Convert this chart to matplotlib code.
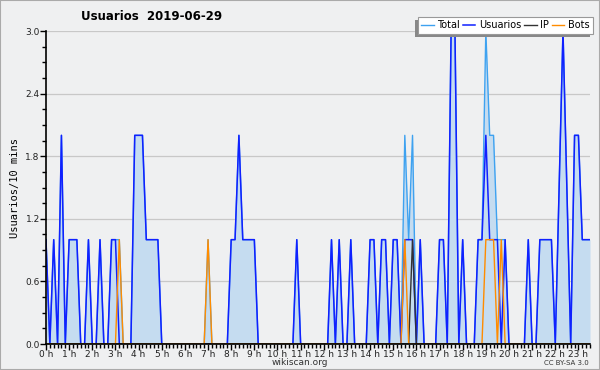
"""
Usuarios 2019-06-29 (wikiscan)
"""

import numpy as np
import matplotlib
matplotlib.use('Agg')
import matplotlib.pyplot as plt
from matplotlib.patches import Rectangle
from matplotlib.ticker import MultipleLocator, FixedLocator

# valori la fiecare 10 minute (0:00 .. 23:30)
usuarios = [1, 0, 1, 0, 2, 0, 1, 1, 1, 0, 0, 1, 0, 0, 1, 0, 0, 1, 1, 0,
            0, 0, 0, 2, 2, 2, 1, 1, 1, 1, 0, 0, 0, 0, 0, 0, 0, 0, 0, 0,
            0, 0, 0, 0, 0, 0, 0, 0, 1, 1, 2, 1, 1, 1, 1, 0, 0, 0, 0, 0,
            0, 0, 0, 0, 0, 1, 0, 0, 0, 0, 0, 0, 0, 0, 1, 0, 1, 0, 0, 1,
            0, 0, 0, 0, 1, 1, 0, 1, 1, 0, 1, 1, 0, 1, 1, 1, 0, 1, 0, 0,
            0, 0, 1, 1, 0, 3, 3, 0, 1, 0, 0, 0, 1, 1, 2, 1, 1, 1, 0, 1,
            0, 0, 0, 0, 0, 1, 0, 0, 1, 1, 1, 1, 0, 1.5, 3, 1.5, 0, 2, 2, 1,
            1, 1]
ip_idx = [95]
ip_val = [1]
bots_idx = [19, 42, 93, 114, 115, 116, 118]
bots_val = [1, 1, 1, 1, 1, 1, 1]
hour_labels = [f"{h} h" for h in range(24)]

n = len(usuarios)
x = np.arange(n)
usuarios = np.array(usuarios, dtype=float)
ip = np.zeros(n)
ip[ip_idx] = ip_val
bots = np.zeros(n)
bots[bots_idx] = bots_val
total = usuarios + ip + bots

bg = '#eff0f1'
fig = plt.figure(figsize=(6, 3.7), dpi=100, facecolor=bg)
ax = fig.add_axes([46/600, 26/370, 544/600, 313/370])
ax.set_facecolor(bg)

ax.fill_between(x, 0, total, color='#c5dcf0', lw=0, zorder=1)
ax.plot(x, total, color='#3ea2f0', lw=1.0, label='Total', zorder=2)
ax.plot(x, usuarios, color='#1020ff', lw=1.1, label='Usuarios', zorder=3)
ax.plot(x, ip, color='#333333', lw=1.0, label='IP', zorder=4)
ax.plot(x, bots, color='#ff8c00', lw=1.0, label='Bots', zorder=5)
ax.set_xlim(0, n - 1)
ax.set_ylim(0, 3.0)

ax.yaxis.set_major_locator(MultipleLocator(0.6))
ax.yaxis.set_minor_locator(MultipleLocator(0.15))
ax.yaxis.set_major_formatter(matplotlib.ticker.FormatStrFormatter('%.1f'))
ax.xaxis.set_major_locator(FixedLocator(np.arange(0, 24) * 6))
ax.xaxis.set_minor_locator(MultipleLocator(1))
ax.set_xticklabels(hour_labels)

ax.tick_params(axis='both', which='major', length=4, width=1, labelsize=6.5,
               pad=0.5, colors='black', labelcolor='#222222')
ax.tick_params(axis='both', which='minor', length=3, width=1, colors='black')
ax.grid(axis='y', color='#c8c8c8', lw=0.9, zorder=0)
ax.set_axisbelow(True)

for s in ['top', 'right']:
    ax.spines[s].set_visible(False)
for s in ['left', 'bottom']:
    ax.spines[s].set_linewidth(1.2)
    ax.spines[s].set_zorder(6)

ax.set_ylabel('Usuarios/10 mins', fontsize=7.5, family='DejaVu Sans Mono',
              labelpad=4)

fig.text(0.252, 0.955, 'Usuarios  2019-06-29', fontsize=8.5, fontweight='bold',
         ha='center', va='center')
fig.text(0.5, 0.021, 'wikiscan.org', fontsize=6.5, ha='center', va='center',
         color='#333333')
fig.text(0.982, 0.019, 'CC BY-SA 3.0', fontsize=5, ha='right', va='center',
         color='#333333')

leg = fig.legend(loc='upper right', bbox_to_anchor=(0.988, 0.954), ncol=4,
                 fontsize=7, frameon=True, fancybox=False, framealpha=1,
                 edgecolor='#999999', facecolor='white', handlelength=1.3,
                 handletextpad=0.35, columnspacing=0.3, borderpad=0.35,
                 borderaxespad=0)
leg.get_frame().set_linewidth(0.8)
leg.set_zorder(10)

# umbra legendei (stanga-jos)
fig.canvas.draw()
bb = leg.get_window_extent().transformed(fig.transFigure.inverted())
fig.patches.append(Rectangle((bb.x0 - 3/600, bb.y0 - 3/370), bb.width, bb.height,
                             transform=fig.transFigure, facecolor='#888888',
                             edgecolor='none', zorder=9))

# chenar in jurul imaginii
fig.patches.append(Rectangle((0, 0), 1, 1, transform=fig.transFigure,
                             fill=False, edgecolor='#aaaaaa', lw=1.5, zorder=20))

fig.savefig('out.png', dpi=100, facecolor=bg)
